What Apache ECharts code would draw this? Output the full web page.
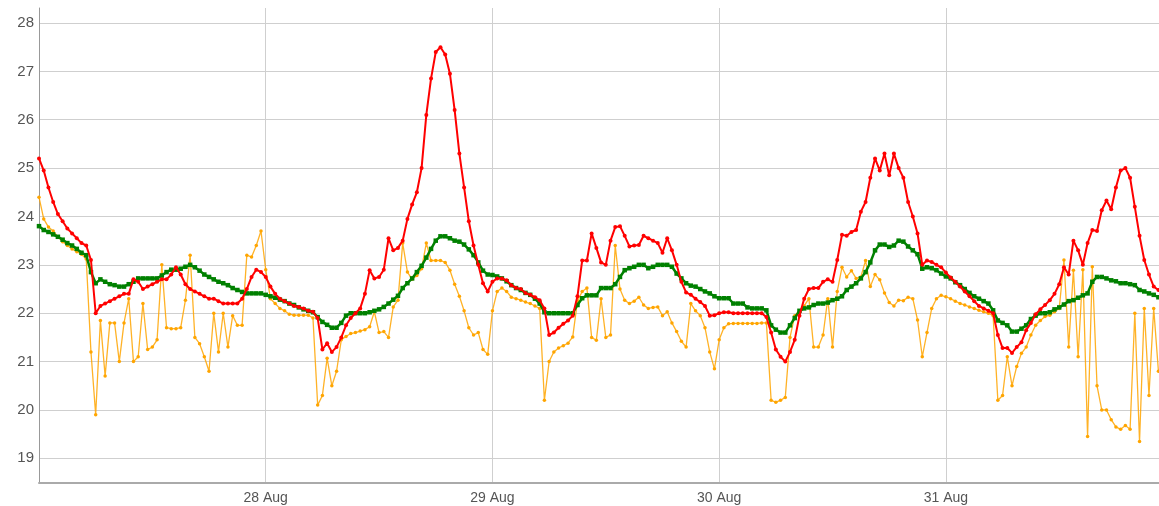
<!DOCTYPE html>
<html><head><meta charset="utf-8">
<script src="https://cdn.jsdelivr.net/npm/echarts@6/dist/echarts.min.js"></script>
<style>html,body{margin:0;padding:0;background:#fff}#c{width:1159px;height:506px}</style>
</head><body><div id="c"></div>
<script>
// 30-minute samples starting 27 Aug 00:00
const START = Date.UTC(2023, 7, 27, 0, 0, 0);
const STEP_MINUTES = 30;
const END_HOURS = 118.56;
const dayTickLabels = ['28 Aug', '29 Aug', '30 Aug', '31 Aug'];
const yTickValues = [19, 20, 21, 22, 23, 24, 25, 26, 27, 28];

const red = [
25.2,24.95,24.6,24.3,24.05,23.9,23.75,23.65,23.55,23.45,23.4,23.1,22.0,22.15,22.2,22.25,22.3,22.35,22.4,22.4,22.7,22.65,22.5,22.55,22.6,22.65,22.7,22.7,22.8,22.95,22.8,22.6,22.5,22.45,22.4,22.35,22.3,22.3,22.25,22.2,22.2,22.2,22.2,22.3,22.5,22.75,22.9,22.85,
22.75,22.55,22.4,22.3,22.25,22.2,22.15,22.13,22.1,22.05,22.03,21.9,21.25,21.38,21.2,21.3,21.5,21.75,21.9,22.0,22.1,22.4,22.89,22.72,22.75,22.9,23.55,23.3,23.35,23.5,23.95,24.25,24.5,25.0,26.1,26.85,27.4,27.5,27.35,26.95,26.2,25.3,24.6,23.9,23.4,23.0,22.62,22.45,
22.65,22.72,22.72,22.68,22.58,22.52,22.5,22.42,22.38,22.33,22.27,22.1,21.55,21.6,21.7,21.78,21.85,21.95,22.35,23.09,23.09,23.65,23.35,23.05,23.0,23.5,23.78,23.8,23.6,23.38,23.4,23.41,23.6,23.55,23.5,23.45,23.25,23.55,23.3,23.0,22.65,22.43,22.38,22.3,22.23,22.15,21.95,21.96,
22.0,22.02,22.02,22.0,22.0,22.0,22.0,22.0,22.0,22.0,21.92,21.6,21.25,21.1,21.0,21.2,21.45,21.95,22.3,22.5,22.52,22.52,22.65,22.7,22.65,23.1,23.62,23.6,23.68,23.72,24.1,24.3,24.8,25.2,24.95,25.3,24.85,25.3,25.0,24.8,24.3,24.0,23.65,23.0,23.09,23.06,23.0,22.95,
22.84,22.74,22.65,22.55,22.45,22.35,22.25,22.15,22.1,22.05,22.0,21.55,21.28,21.28,21.18,21.3,21.4,21.65,21.8,21.98,22.08,22.17,22.27,22.4,22.6,22.95,22.8,23.5,23.3,23.0,23.45,23.72,23.7,24.13,24.33,24.15,24.6,24.95,25.0,24.8,24.2,23.6,23.1,22.8,22.55,22.48
];

const green = [
23.8,23.72,23.68,23.63,23.58,23.52,23.45,23.4,23.33,23.25,23.2,22.85,22.62,22.7,22.65,22.6,22.58,22.55,22.55,22.6,22.65,22.72,22.72,22.72,22.72,22.72,22.78,22.85,22.9,22.9,22.92,22.96,23.0,22.95,22.88,22.8,22.75,22.7,22.65,22.62,22.58,22.52,22.48,22.44,22.41,22.41,22.41,22.41,
22.38,22.35,22.32,22.28,22.25,22.2,22.17,22.12,22.08,22.05,22.02,21.92,21.82,21.76,21.7,21.7,21.8,21.95,22.0,22.0,22.0,22.0,22.02,22.05,22.08,22.13,22.2,22.28,22.36,22.52,22.62,22.72,22.85,22.98,23.15,23.33,23.5,23.59,23.59,23.55,23.5,23.48,23.42,23.32,23.2,23.05,22.88,22.8,
22.79,22.76,22.72,22.66,22.58,22.52,22.48,22.42,22.38,22.3,22.2,22.02,22.0,22.0,22.0,22.0,22.0,22.0,22.17,22.31,22.37,22.37,22.37,22.52,22.52,22.52,22.6,22.75,22.89,22.93,22.96,23.0,23.0,22.93,22.96,23.0,23.0,23.0,22.96,22.82,22.72,22.62,22.57,22.55,22.5,22.45,22.41,22.35,
22.31,22.31,22.31,22.2,22.2,22.2,22.12,22.1,22.1,22.1,22.06,21.75,21.66,21.6,21.6,21.75,21.9,22.05,22.1,22.12,22.17,22.2,22.2,22.22,22.27,22.3,22.35,22.48,22.55,22.62,22.72,22.85,23.05,23.3,23.42,23.42,23.37,23.4,23.5,23.48,23.38,23.3,23.22,22.92,22.95,22.93,22.89,22.82,
22.76,22.72,22.64,22.58,22.5,22.42,22.35,22.3,22.25,22.2,22.06,21.85,21.8,21.75,21.62,21.62,21.68,21.75,21.88,21.95,22.0,22.0,22.02,22.08,22.12,22.18,22.25,22.27,22.32,22.37,22.41,22.65,22.75,22.75,22.72,22.68,22.66,22.62,22.62,22.6,22.58,22.48,22.45,22.41,22.38,22.33
];

const orange = [
24.4,23.95,23.78,23.7,23.58,23.48,23.4,23.33,23.27,23.22,23.12,21.2,19.9,21.85,20.7,21.8,21.8,21.0,21.8,22.3,21.0,21.1,22.2,21.25,21.3,21.45,23.0,21.7,21.68,21.68,21.7,22.27,23.2,21.5,21.37,21.1,20.8,22.0,21.2,22.0,21.3,21.95,21.75,21.75,23.2,23.16,23.4,23.7,
22.9,22.3,22.2,22.1,22.05,21.98,21.96,21.96,21.96,21.96,21.9,20.1,20.3,21.07,20.5,20.8,21.45,21.52,21.58,21.6,21.63,21.66,21.72,22.03,21.6,21.62,21.5,22.13,22.27,23.45,22.85,22.7,22.78,22.92,23.45,23.09,23.09,23.09,23.05,22.89,22.6,22.35,22.05,21.7,21.55,21.6,21.25,21.15,
22.05,22.45,22.52,22.45,22.33,22.3,22.27,22.23,22.2,22.15,22.1,20.2,21.0,21.2,21.28,21.33,21.38,21.51,22.25,22.45,22.52,21.5,21.44,22.3,21.5,21.55,23.4,22.5,22.27,22.2,22.25,22.33,22.17,22.1,22.12,22.13,21.95,22.03,21.8,21.62,21.42,21.3,22.2,22.05,21.95,21.7,21.2,20.85,
21.45,21.7,21.78,21.79,21.79,21.79,21.79,21.79,21.79,21.8,21.8,20.2,20.16,20.2,20.26,21.5,21.95,22.05,22.15,22.3,21.3,21.3,21.55,22.3,21.3,22.45,22.95,22.75,22.88,22.72,22.75,23.09,22.55,22.8,22.69,22.42,22.22,22.15,22.27,22.26,22.33,22.3,21.86,21.1,21.6,22.1,22.3,22.37,
22.34,22.3,22.25,22.2,22.17,22.13,22.1,22.06,22.03,22.0,21.95,20.2,20.3,21.1,20.5,20.9,21.17,21.3,21.55,21.75,21.85,21.93,21.96,22.03,22.1,23.1,21.3,22.89,21.1,22.9,19.45,22.96,20.5,20.0,20.0,19.8,19.65,19.6,19.68,19.6,22.0,19.35,22.1,20.3,22.1,20.8
];

const times = red.map((_, i) => START + i * STEP_MINUTES * 60000);
const dayTicks = dayTickLabels.map((_, k) => START + (k + 1) * 86400000);
const pairs = arr => arr.map((v, i) => [times[i], v]);

const chart = echarts.init(document.getElementById('c'), null, {renderer: 'canvas'});
const labelFont = {color: '#555', fontSize: 14, fontFamily: 'Liberation Sans, Arial, sans-serif'};
chart.setOption({
  animation: false,
  backgroundColor: '#fff',
  grid: {left: 39, right: 0, top: 8, bottom: 23},
  xAxis: {
    type: 'value',
    min: START,
    max: START + END_HOURS * 3600000,
    axisLine: {show: true, lineStyle: {color: '#aaa', width: 2}},
    axisTick: {show: false, customValues: dayTicks},
    axisLabel: Object.assign({
      customValues: dayTicks,
      margin: 8,
      formatter: v => dayTickLabels[dayTicks.indexOf(v)] || ''
    }, labelFont),
    splitLine: {show: true, lineStyle: {color: '#cfcfcf', width: 1}}
  },
  yAxis: {
    type: 'value',
    min: 18.49,
    max: 28.31,
    axisLine: {show: true, lineStyle: {color: '#999', width: 1}},
    axisTick: {show: false, customValues: yTickValues},
    axisLabel: Object.assign({customValues: yTickValues, margin: 5}, labelFont, {fontSize: 15}),
    splitLine: {show: true, lineStyle: {color: '#cfcfcf', width: 1}}
  },
  series: [
    {name: 'orange', type: 'line', data: pairs(orange), color: '#ffa500',
     lineStyle: {width: 1.3, opacity: 0.85}, symbol: 'circle', symbolSize: 3.5, showAllSymbol: true, z: 2},
    {name: 'green', type: 'line', data: pairs(green), color: '#008000',
     lineStyle: {width: 2.5}, symbol: 'rect', symbolSize: 4.5, showAllSymbol: true, z: 3},
    {name: 'red', type: 'line', data: pairs(red), color: '#ff0000',
     lineStyle: {width: 2}, symbol: 'circle', symbolSize: 4, showAllSymbol: true, z: 4}
  ]
});
</script>
</body></html>
